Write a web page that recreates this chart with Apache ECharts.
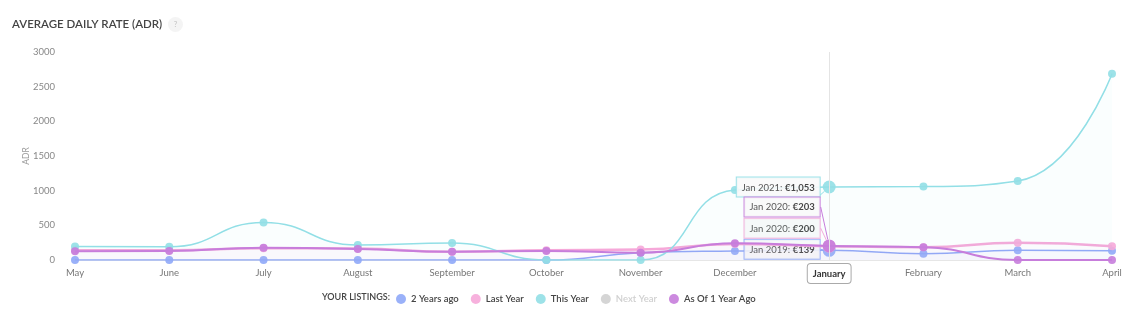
<!DOCTYPE html>
<html><head><meta charset="utf-8">
<script src="https://cdn.jsdelivr.net/npm/echarts@6/dist/echarts.min.js"></script>
<style>html,body{margin:0;padding:0;background:#fff}#c{width:1142px;height:326px}</style>
</head><body><div id="c"></div>
<script>
const months = ['May','June','July','August','September','October','November','December','January','February','March','April'];
const twoYearsAgo = [0,0,0,0,0,0,105,130,139,90,140,135];
const lastYear = [140,140,170,165,120,140,150,230,200,185,250,200];
const thisYear = [195,190,540,215,245,0,0,1010,1053,1060,1140,2685];
const nextYear = [null,null,null,null,null,null,null,null,null,null,null,null];
const asOf1YearAgo = [125,130,175,160,120,130,105,240,203,185,0,0];
const yTicks = [0,500,1000,1500,2000,2500,3000];
const hoverIndex = 8;
const hoverLabels = {
  '2 Years ago': 'Jan 2019',
  'Last Year': 'Jan 2020',
  'This Year': 'Jan 2021',
  'As Of 1 Year Ago': 'Jan 2020'
};
const labelShift = {'2 Years ago': -1, 'Last Year': -18, 'This Year': 0, 'As Of 1 Year Ago': -39};

const colors = {
  '2 Years ago': '#8fa8f8',
  'Last Year': '#f6a8d9',
  'This Year': '#92dfe6',
  'Next Year': '#d0d0d0',
  'As Of 1 Year Ago': '#c77ddb'
};
const FONT = 'Lato, "Open Sans", sans-serif';

function fmt(v){ return '€' + v.toLocaleString('en-US'); }

function makeSeries(name, arr, width, area, z){
  const c = colors[name];
  return {
    name: name, type: 'line', smooth: true, z: z,
    symbol: 'circle', symbolSize: 8, showSymbol: true,
    lineStyle: {width: width, color: c},
    itemStyle: {color: c, opacity: 0.9},
    areaStyle: area ? {color: c, opacity: area} : undefined,
    labelLayout: labelShift[name] ? {dy: labelShift[name]} : undefined,
    labelLine: {show: true, lineStyle: {color: c, width: 1}},
    data: arr.map((v, i) => {
      if (i === hoverIndex && v != null && hoverLabels[name]) {
        return {
          value: v, symbolSize: 13,
          label: {
            show: true, position: 'left', distance: 3,
            formatter: '{n|' + hoverLabels[name] + ': }{b|' + fmt(v) + '}',
            backgroundColor: '#f9f9f9', borderColor: c, borderWidth: 1,
            padding: [5, 5, 4, 5],
            rich: {
              n: {fontSize: 9.5, color: '#444', fontFamily: FONT},
              b: {fontSize: 9.5, color: '#333', fontWeight: 'bold', fontFamily: FONT}
            }
          }
        };
      }
      return v;
    })
  };
}

const chart = echarts.init(document.getElementById('c'));
chart.setOption({
  animation: false,
  title: {
    text: 'AVERAGE DAILY RATE (ADR)  {q|?}',
    left: 7, top: 12,
    textStyle: {
      fontSize: 11.5, fontWeight: 600, color: '#444', fontFamily: FONT,
      rich: {q: {backgroundColor: '#f4f4f4', borderRadius: 8, width: 15, height: 15, align: 'center', color: '#c8c8c8', fontSize: 8}}
    }
  },
  graphic: [{
    type: 'text', left: 322, top: 293,
    style: {text: 'YOUR LISTINGS:', fontSize: 9, fontWeight: 600, fill: '#444', fontFamily: FONT}
  }],
  legend: {
    left: 391, top: 289, icon: 'circle', itemWidth: 10, itemHeight: 10, itemGap: 12,
    textStyle: {fontSize: 9.5, fontWeight: 600, color: '#444', fontFamily: FONT},
    inactiveColor: '#d0d0d0',
    selected: {'Next Year': false},
    data: ['2 Years ago','Last Year','This Year','Next Year','As Of 1 Year Ago']
  },
  grid: {left: 75, right: 30, top: 52, bottom: 66},
  xAxis: {
    type: 'category', data: months, boundaryGap: false,
    axisLine: {lineStyle: {color: '#e6e6e6'}},
    axisTick: {show: false},
    axisLabel: {color: '#777', fontSize: 9.5, margin: 8, fontFamily: FONT},
    axisPointer: {
      show: true, status: 'show', value: hoverIndex, type: 'line',
      lineStyle: {color: '#e4e4e4', width: 1, type: 'solid'},
      label: {show: true, backgroundColor: '#fff', borderColor: '#aaa', borderWidth: 1,
        color: '#333', fontWeight: 'bold', fontSize: 9.5, padding: [5, 5, 4, 5], fontFamily: FONT, margin: 4,
        formatter: p => p.value}
    }
  },
  yAxis: {
    type: 'value', min: 0, max: 3000, interval: 500,
    name: 'ADR', nameLocation: 'middle', nameGap: 44, nameRotate: 90, nameMoveOverlap: false,
    nameTextStyle: {fontSize: 8.5, color: '#999', fontFamily: FONT},
    axisLine: {show: false}, axisTick: {show: false},
    splitLine: {show: false},
    axisLabel: {color: '#888', fontSize: 9.5, margin: 20, fontFamily: FONT,
      formatter: v => yTicks.includes(v) ? String(v) : ''}
  },
  series: [
    makeSeries('2 Years ago', twoYearsAgo, 1.5, 0.03, 2),
    makeSeries('Last Year', lastYear, 2.5, 0.03, 3),
    makeSeries('This Year', thisYear, 1.5, 0.045, 4),
    makeSeries('Next Year', nextYear, 1.5, 0, 1),
    makeSeries('As Of 1 Year Ago', asOf1YearAgo, 2, 0.02, 5)
  ]
});
</script></body></html>
